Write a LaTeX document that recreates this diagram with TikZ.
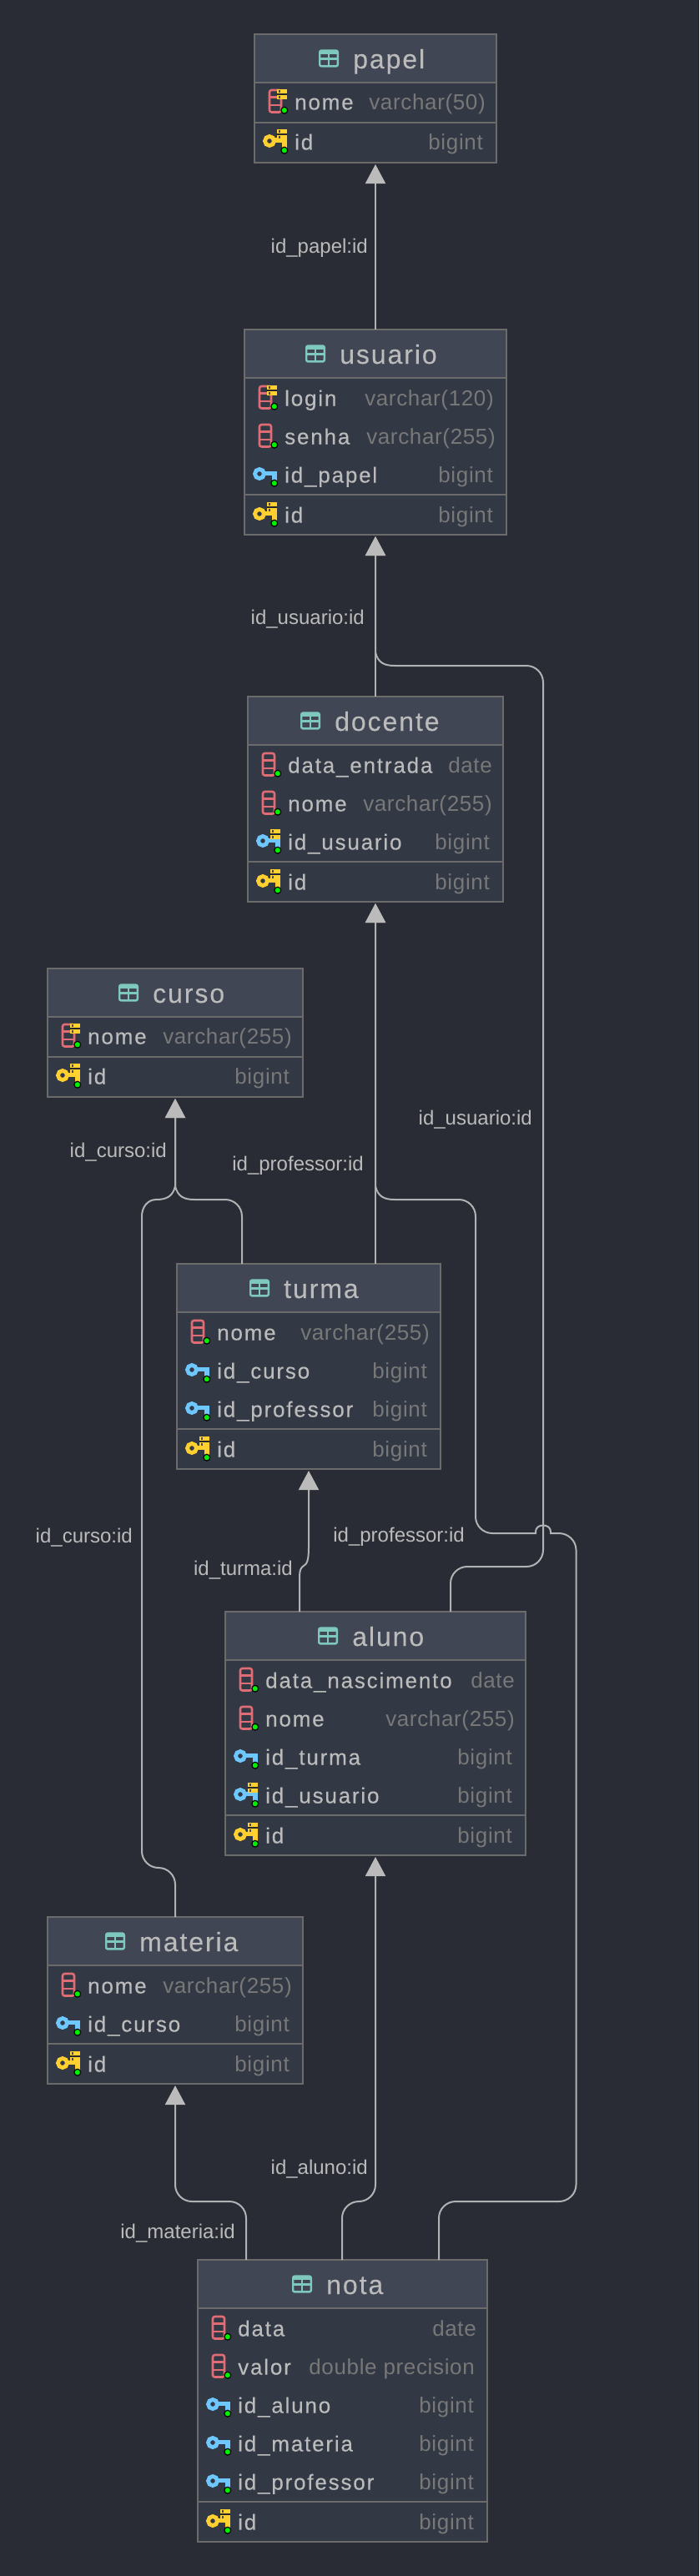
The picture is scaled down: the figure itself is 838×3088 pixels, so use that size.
\documentclass[tikz,border=0pt]{standalone}
\usepackage{fontspec}
\usetikzlibrary{arrows.meta}
\setmainfont{Liberation Sans}
\newfontfamily\titlefont[LetterSpace=6,FakeBold=0.12]{Liberation Sans}
\newfontfamily\fieldfont[LetterSpace=7,FakeBold=0.25]{Liberation Sans}
\newfontfamily\typefont[LetterSpace=2.5]{Liberation Sans}
\definecolor{bgc}{RGB}{41,44,52}
\definecolor{hdrc}{RGB}{64,70,83}
\definecolor{bodyc}{RGB}{50,56,68}
\definecolor{edgec}{RGB}{107,107,107}
\definecolor{txtc}{RGB}{187,187,187}
\definecolor{typec}{RGB}{120,120,120}
\definecolor{linec}{RGB}{176,178,180}
\definecolor{tealc}{RGB}{126,200,190}
\definecolor{redc}{RGB}{224,108,117}
\definecolor{yelc}{RGB}{255,208,48}
\definecolor{bluc}{RGB}{110,200,255}
\definecolor{grnc}{RGB}{0,240,0}
\tikzset{
  ebody/.style={draw=edgec,line width=2pt,fill=bodyc,anchor=north west,inner sep=0pt,outer sep=0pt},
  ehead/.style={draw=edgec,line width=2pt,fill=hdrc,anchor=north west,inner sep=0pt,outer sep=0pt},
  titletxt/.style={anchor=base west,inner sep=0pt,text=txtc,font=\titlefont\fontsize{32}{36}\selectfont},
  fieldtxt/.style={anchor=base west,inner sep=0pt,text=txtc,font=\fieldfont\fontsize{26}{30}\selectfont},
  typetxt/.style={anchor=base east,inner sep=0pt,text=typec,font=\typefont\fontsize{26}{30}\selectfont},
  edgetxt/.style={anchor=base east,inner sep=0pt,text=txtc,font=\fontsize{24}{28}\selectfont},
  conn/.style={draw=linec,line width=2pt},
  tip/.style={-{Triangle[width=24pt,length=23pt,fill=txtc,color=txtc]},shorten >=2pt},
  sepline/.style={draw=edgec,line width=2pt},
  pics/tblicon/.style={code={
    \draw[tealc,line width=2.4pt,fill=hdrc,rounded corners=2pt] (1.2,-9.4) rectangle (22.8,9.4);
    \fill[tealc] (1,-9.6) rectangle (23,-5);
    \draw[tealc,line width=2.2pt] (1,0.5) -- (23,0.5) (12,-5) -- (12,9);
  }},
  pics/colicon/.style={code={
    \draw[redc,line width=2.6pt,rounded corners=2.5pt] (-30,-14) rectangle (-16,12.5);
    \draw[redc,line width=2.4pt] (-30,-5.5) -- (-16,-5.5) (-30,3.8) -- (-16,3.8);
  }},
  pics/keyicon/.style={code={
    \fill[#1] (-24,-4.5) rectangle (-9,1.2);
    \fill[#1] (-15,0) rectangle (-9,8);
    \draw[#1,line width=4.8pt] (-30,-1) circle[radius=5.5];
  }},
  pics/uqicon/.style={code={
    \fill[yelc] (-21,-15) rectangle (-9,-10);
    \fill[yelc] (-21,-8) rectangle (-9,-3);
    \fill[black!85] (-21,-10) rectangle (-9,-8);
    \fill[black!70] (-19.5,-13.7) rectangle (-17,-11.3);
    \fill[black!70] (-19.5,-6.7) rectangle (-17,-4.3);
  }},
  pics/doticon/.style={code={
    \draw[black,fill=grnc,line width=1.2pt] (-12.2,10.2) circle[radius=3.9];
  }},
}
% name, left, right, top, number of plain rows, icon x, title
\newcommand\entity[7]{%
  \pgfmathsetmacro\entW{#3-#2}%
  \pgfmathsetmacro\entH{108+46*#5}%
  \pgfmathsetmacro\entS{#4+60+46*#5}%
  \node[ebody,minimum width=\entW pt,minimum height=\entH pt] (#1) at (#2,#4) {};
  \node[ehead,minimum width=\entW pt,minimum height=58pt] (#1-head) at (#2,#4) {};
  \draw[sepline] (#1.west |- 0,\entS) -- (#1.east |- 0,\entS);
  \pic at (#6,#4+29) {tblicon};
  \node[titletxt] (#1-title) at (#6+41,#4+41) {#7};
}
% name, NX, row centre y, right end for type, icon picture, field, type
\newcommand\fld[7]{%
  \pic at (#2,#3) {#5};
  \node[fieldtxt] (#1-n) at (#2,#3+9.5) {#6};
  \node[typetxt] (#1-t) at (#4,#3+9.5) {#7};
}
\tikzset{
  pics/cu/.style={code={\pic {colicon}; \pic {uqicon}; \pic {doticon};}},
  pics/cp/.style={code={\pic {colicon}; \pic {doticon};}},
  pics/fk/.style={code={\pic {keyicon=bluc}; \pic {doticon};}},
  pics/fu/.style={code={\pic {keyicon=bluc}; \pic {uqicon}; \pic {doticon};}},
  pics/pk/.style={code={\pic {keyicon=yelc}; \pic {uqicon}; \pic {doticon};}},
}
\begin{document}
\begin{tikzpicture}[x=1pt,y=-1pt]
\useasboundingbox[fill=bgc] (0,0) rectangle (838,3088);

% entity frames first so that connectors can name them
\entity{papel}{305}{595}{41}{1}{382}{papel}
\entity{usuario}{293}{607}{395}{3}{366}{usuario}
\entity{docente}{297}{603}{835}{3}{360}{docente}
\entity{curso}{57}{363}{1161}{1}{142}{curso}
\entity{turma}{212}{528}{1515}{3}{299}{turma}
\entity{aluno}{270}{630}{1932}{4}{381}{aluno}
\entity{materia}{57}{363}{2298}{2}{126}{materia}
\entity{nota}{237}{584}{2709}{5}{350}{nota}

% papel
\fld{pa1}{353}{122}{582}{cu}{nome}{varchar(50)}
\fld{pa2}{353}{170}{579}{pk}{id}{bigint}
% usuario
\fld{us1}{341}{477}{592}{cu}{login}{varchar(120)}
\fld{us2}{341}{523}{594}{cp}{senha}{varchar(255)}
\fld{us3}{341}{569}{591}{fk}{id\_papel}{bigint}
\fld{us4}{341}{617}{591}{pk}{id}{bigint}
% docente
\fld{do1}{345}{917}{590}{cp}{data\_entrada}{date}
\fld{do2}{345}{963}{590}{cp}{nome}{varchar(255)}
\fld{do3}{345}{1009}{587}{fu}{id\_usuario}{bigint}
\fld{do4}{345}{1057}{587}{pk}{id}{bigint}
% curso
\fld{cu1}{105}{1242}{350}{cu}{nome}{varchar(255)}
\fld{cu2}{105}{1290}{347}{pk}{id}{bigint}
% turma
\fld{tu1}{260}{1597}{515}{cp}{nome}{varchar(255)}
\fld{tu2}{260}{1643}{512}{fk}{id\_curso}{bigint}
\fld{tu3}{260}{1689}{512}{fk}{id\_professor}{bigint}
\fld{tu4}{260}{1737}{512}{pk}{id}{bigint}
% aluno
\fld{al1}{318}{2014}{617}{cp}{data\_nascimento}{date}
\fld{al2}{318}{2060}{617}{cp}{nome}{varchar(255)}
\fld{al3}{318}{2106}{614}{fk}{id\_turma}{bigint}
\fld{al4}{318}{2152}{614}{fu}{id\_usuario}{bigint}
\fld{al5}{318}{2200}{614}{pk}{id}{bigint}
% materia
\fld{ma1}{105}{2380}{350}{cp}{nome}{varchar(255)}
\fld{ma2}{105}{2426}{347}{fk}{id\_curso}{bigint}
\fld{ma3}{105}{2474}{347}{pk}{id}{bigint}
% nota
\fld{no1}{285}{2791}{571}{cp}{data}{date}
\fld{no2}{285}{2837}{569}{cp}{valor}{double precision}
\fld{no3}{285}{2883}{568}{fk}{id\_aluno}{bigint}
\fld{no4}{285}{2929}{568}{fk}{id\_materia}{bigint}
\fld{no5}{285}{2975}{568}{fk}{id\_professor}{bigint}
\fld{no6}{285}{3023}{568}{pk}{id}{bigint}

% stub columns on the node edges
\coordinate (xa) at (540,0);
\coordinate (xb) at (359,0);
\coordinate (xc) at (290,0);
\coordinate (xd) at (295,0);
\coordinate (xe) at (410,0);
\coordinate (xf) at (526,0);

% connectors
\draw[conn,tip] (usuario.north) -- (papel.south);
\draw[conn,tip] (docente.north) -- (usuario.south);
% aluno -> usuario
\draw[conn,tip] (xa |- aluno.north) -- (540,1898) .. controls (540,1887) and (549,1878) .. (560,1878)
   -- (631,1878) .. controls (642,1878) and (651,1869) .. (651,1858)
   -- (651,818) .. controls (651,807) and (642,798) .. (631,798)
   -- (473,798) .. controls (460,798) and (453,794) .. (450,782) -- (usuario.south);
\draw[conn,tip] (turma.north -| docente.south) -- (docente.south);
% nota -> docente
\draw[conn,tip] (xf |- nota.north) -- (526,2659) .. controls (526,2648) and (535,2639) .. (546,2639)
   -- (670,2639) .. controls (681,2639) and (690.5,2630) .. (690.5,2619)
   -- (690.5,1858) .. controls (690.5,1847) and (681,1838) .. (670,1838)
   -- (660,1838) -- (660,1836)
   .. controls (660,1826) and (642,1826) .. (642,1836) -- (642,1838)
   -- (590,1838) .. controls (579,1838) and (570,1829) .. (570,1818)
   -- (570,1458) .. controls (570,1447) and (561,1438) .. (550,1438)
   -- (473,1438) .. controls (460,1438) and (453,1434) .. (450,1422) -- (docente.south);
% turma -> curso
\draw[conn,tip] (xc |- turma.north) -- (290,1458) .. controls (290,1447) and (281,1438) .. (270,1438)
   -- (233,1438) .. controls (220,1438) and (213,1434) .. (210,1422) -- (curso.south);
% materia -> curso
\draw[conn,tip] (materia.north) -- (210,2259) .. controls (210,2248) and (201,2239) .. (190,2239)
   .. controls (179,2239) and (170,2230) .. (170,2219)
   -- (170,1458) .. controls (170,1447) and (177,1438) .. (187,1438)
   .. controls (200,1438) and (207,1434) .. (210,1422) -- (curso.south);
% aluno -> turma
\draw[conn,tip] (xb |- aluno.north) -- (359,1892) .. controls (359,1881) and (361,1879) .. (364,1877)
   .. controls (368,1875) and (370,1870) .. (370,1855) -- (turma.south);
% nota -> aluno
\draw[conn,tip] (xe |- nota.north) -- (410,2659) .. controls (410,2648) and (419,2639) .. (430,2639)
   .. controls (441,2639) and (450,2630) .. (450,2619) -- (aluno.south);
% nota -> materia
\draw[conn,tip] (xd |- nota.north) -- (295,2659) .. controls (295,2648) and (286,2639) .. (275,2639)
   -- (230,2639) .. controls (219,2639) and (210,2630) .. (210,2619) -- (materia.south);

% connector labels
\node[edgetxt] (l1) at (441,303) {id\_papel:id};
\node[edgetxt] (l2) at (437,748) {id\_usuario:id};
\node[edgetxt] (l3) at (638,1348) {id\_usuario:id};
\node[edgetxt] (l4) at (436,1403) {id\_professor:id};
\node[edgetxt] (l5) at (200,1387) {id\_curso:id};
\node[edgetxt] (l6) at (159,1849) {id\_curso:id};
\node[edgetxt] (l7) at (557,1848) {id\_professor:id};
\node[edgetxt] (l8) at (351,1888) {id\_turma:id};
\node[edgetxt] (l9) at (441,2606) {id\_aluno:id};
\node[edgetxt] (l10) at (282,2683) {id\_materia:id};
\end{tikzpicture}
\end{document}
